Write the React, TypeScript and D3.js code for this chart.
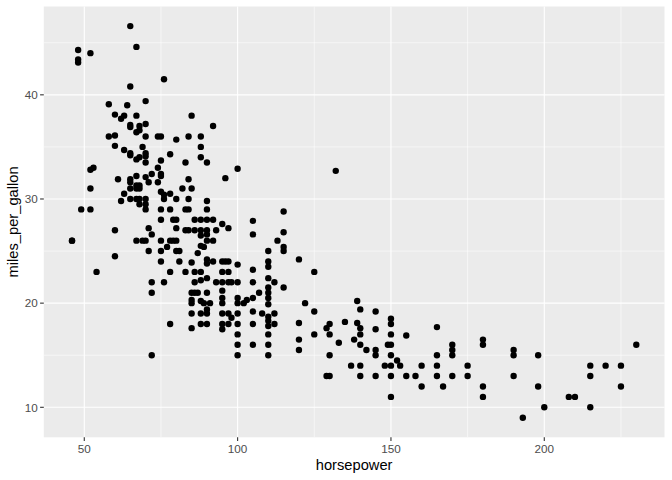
import React from 'react';
import * as d3 from 'd3';

// horsepower / miles_per_gallon pairs
const horsepower = [
  65, 48, 48, 48, 52, 67, 76, 65, 70, 58, 64, 60, 62, 63, 67, 65, 65, 68, 70, 85, 92,
  58, 60, 67, 68, 70, 74, 75, 80, 84, 88, 60, 63, 65, 65, 69, 70, 70, 70, 67, 68,
  78, 88, 88, 90, 83, 75, 74, 52, 53, 72, 75, 75, 67, 65, 65, 70, 71, 68, 67, 61,
  84, 52, 74, 75, 76, 65, 67, 68, 63, 65, 67, 68, 70, 62, 78, 82, 85, 76, 80, 84,
  90, 68, 70, 49, 52, 70, 75, 78, 83, 84, 90, 75, 79, 80, 80, 86, 88, 90, 92, 71,
  60, 83, 84, 86, 88, 90, 93, 72, 88, 90, 46, 46, 67, 69, 70, 75, 78, 79, 80, 88,
  90, 92,
  60, 54, 72, 76, 72, 72, 78, 71, 75, 75, 80, 81, 81, 85, 83, 86, 88, 78, 86, 88,
  90, 93, 85, 86, 87, 90, 85, 85, 88, 89, 91, 85, 88, 90, 90, 85, 88, 90, 77, 87,
  89, 90, 90, 92,
  95, 97, 105, 115, 105, 115, 113, 115, 115, 120, 125, 110, 110, 110, 110, 110, 110,
  110, 110, 112, 115, 107, 105, 103, 102, 100, 100, 105, 105, 100, 100, 95, 96, 97,
  95, 97, 95, 97, 98, 95, 95, 95, 95, 97, 98, 95, 95, 97, 100, 100, 100, 100, 100,
  105, 105, 105, 108, 110, 110, 110, 110, 110, 110, 112, 112, 120, 120, 120, 122,
  125, 125, 129, 130, 130, 130, 133, 100, 96, 132,
  139, 140, 145, 135, 139, 140, 140, 145, 150, 150, 150, 155, 165, 138, 140, 142,
  145, 145, 149, 150, 150, 152, 153, 137, 140, 148, 150, 160, 165, 165, 170, 170,
  170, 175, 180, 180, 140, 145, 150, 155, 158, 165, 170, 175, 160, 167, 180, 180,
  150, 129, 130,
  190, 190, 198, 190, 198, 200, 193, 208, 210, 215, 215, 215, 220, 225, 225, 230,
];

const milesPerGallon = [
  46.6, 44.3, 43.4, 43.1, 44.0, 44.6, 41.5, 40.8, 39.4, 39.1, 39.0, 38.1, 37.7, 38.0,
  38.0, 37.1, 36.9, 37.0, 37.2, 38.0, 37.0,
  36.0, 36.1, 36.4, 36.6, 36.0, 36.0, 36.0, 35.7, 36.0, 36.0, 35.1, 34.7, 34.4, 34.2,
  35.0, 34.4, 34.1, 33.5, 33.8, 34.0, 34.3, 35.0, 34.0, 33.5, 33.5, 33.7, 33.0, 32.8,
  33.0, 32.4, 32.4, 32.2, 32.2, 31.9, 31.6, 32.1, 31.6, 31.3, 31.3, 31.9, 31.9, 31.0,
  31.6, 30.7, 30.4, 31.0, 31.0, 31.0, 30.5, 30.0, 30.0, 30.0, 30.0, 29.8, 30.5, 31.0,
  31.0, 30.0, 30.0, 30.0, 29.8, 29.5, 29.5, 29.0, 29.0, 29.0, 29.0, 29.0, 29.0, 29.0,
  29.0, 28.0, 28.0, 28.0, 27.2, 28.0, 28.0, 28.0, 28.0, 27.2, 27.0, 27.0, 27.0, 27.0,
  27.0, 27.0, 27.0, 26.6, 26.5, 26.6, 26.0, 26.0, 26.0, 26.0, 26.0, 26.0, 26.0, 26.0,
  26.0, 25.5, 26.0, 26.0,
  24.5, 23.0, 22.0, 22.0, 21.0, 15.0, 18.0, 25.0, 25.0, 24.0, 25.0, 25.0, 24.0, 23.9,
  23.0, 23.0, 23.0, 23.0, 22.0, 22.2, 22.4, 22.0, 21.0, 21.0, 21.0, 21.0, 20.3, 20.0,
  20.2, 20.0, 20.0, 19.0, 19.0, 19.0, 19.4, 17.6, 18.0, 18.0, 25.4, 24.8, 25.4, 24.2,
  23.8, 24.0,
  27.6, 27.2, 27.9, 28.8, 26.6, 26.8, 26.0, 25.4, 25.0, 24.2, 23.0, 25.0, 24.0, 23.5,
  22.4, 21.5, 21.0, 20.5, 19.9, 22.0, 21.5, 21.0, 20.5, 20.3, 20.0, 20.5, 20.0, 23.2,
  22.0, 23.7, 22.0, 24.0, 24.0, 24.0, 23.0, 23.0, 22.0, 22.0, 22.0, 21.2, 20.5, 20.0,
  19.0, 19.0, 18.6, 18.0, 17.5, 18.0, 19.0, 18.0, 17.0, 16.0, 15.0, 19.2, 18.0, 16.0,
  19.0, 18.7, 18.3, 17.8, 17.0, 16.0, 15.0, 19.0, 18.0, 18.1, 16.5, 15.5, 20.0, 19.2,
  17.0, 17.6, 18.0, 17.0, 15.0, 16.2, 32.9, 32.0, 32.7,
  20.2, 19.4, 19.2, 18.2, 18.1, 17.6, 17.0, 17.5, 18.5, 18.0, 17.0, 16.9, 17.7, 16.5,
  16.0, 15.5, 15.5, 15.0, 16.0, 16.0, 15.0, 14.5, 14.0, 14.0, 14.0, 14.0, 14.0, 14.0,
  15.0, 14.0, 16.0, 15.5, 15.0, 14.0, 16.5, 16.0, 13.0, 13.0, 13.0, 13.0, 13.0, 13.0,
  13.0, 13.0, 12.0, 12.0, 12.0, 11.0, 11.0, 13.0, 13.0,
  15.5, 15.0, 15.0, 13.0, 12.0, 10.0, 9.0, 11.0, 11.0, 14.0, 13.0, 10.0, 14.0, 14.0,
  12.0, 16.0,
];

const xTicks = [50, 100, 150, 200];
const xMinor = [75, 125, 175, 225];
const yTicks = [10, 20, 30, 40];
const yMinor = [15, 25, 35, 45];

const width = 672;
const height = 480;
const margin = { top: 6.5, right: 7.5, bottom: 42.7, left: 43.8 };

const expand = (ext: [number, number]) => {
  const pad = (ext[1] - ext[0]) * 0.05;
  return [ext[0] - pad, ext[1] + pad];
};

const App = () => {
  const points = horsepower.map((hp, i) => ({ hp, mpg: milesPerGallon[i] }));

  const x = d3
    .scaleLinear()
    .domain(expand(d3.extent(horsepower) as [number, number]))
    .range([margin.left, width - margin.right]);

  const y = d3
    .scaleLinear()
    .domain(expand(d3.extent(milesPerGallon) as [number, number]))
    .range([height - margin.bottom, margin.top]);

  const panelBottom = height - margin.bottom;
  const font = '"Liberation Sans", Arial, Helvetica, sans-serif';

  return (
    <svg
      width={width}
      height={height}
      style={{ position: 'absolute', left: 0, top: 0, background: '#fff' }}
    >
      <rect
        x={margin.left}
        y={margin.top}
        width={width - margin.left - margin.right}
        height={panelBottom - margin.top}
        fill="#EBEBEB"
      />
      {xMinor.map((t) => (
        <line key={'xm' + t} x1={x(t)} x2={x(t)} y1={margin.top} y2={panelBottom}
          stroke="#fff" strokeWidth={0.55} />
      ))}
      {yMinor.map((t) => (
        <line key={'ym' + t} x1={margin.left} x2={width - margin.right} y1={y(t)} y2={y(t)}
          stroke="#fff" strokeWidth={0.55} />
      ))}
      {xTicks.map((t) => (
        <line key={'xg' + t} x1={x(t)} x2={x(t)} y1={margin.top} y2={panelBottom}
          stroke="#fff" strokeWidth={1.1} />
      ))}
      {yTicks.map((t) => (
        <line key={'yg' + t} x1={margin.left} x2={width - margin.right} y1={y(t)} y2={y(t)}
          stroke="#fff" strokeWidth={1.1} />
      ))}

      <g>
        {points.map((d, i) => (
          <circle key={i} cx={x(d.hp)} cy={y(d.mpg)} r={3.2} fill="#000" />
        ))}
      </g>

      {/* axes */}
      <g fontFamily={font} fontSize={11.7} fill="#4D4D4D">
        {xTicks.map((t) => (
          <g key={'xt' + t}>
            <line x1={x(t)} x2={x(t)} y1={panelBottom} y2={panelBottom + 3.7}
              stroke="#333" strokeWidth={1.1} />
            <text x={x(t)} y={panelBottom + 16} textAnchor="middle">{t}</text>
          </g>
        ))}
        {yTicks.map((t) => (
          <g key={'yt' + t}>
            <line x1={margin.left - 3.7} x2={margin.left} y1={y(t)} y2={y(t)}
              stroke="#333" strokeWidth={1.1} />
            <text x={margin.left - 6} y={y(t)} dy="0.36em" textAnchor="end">{t}</text>
          </g>
        ))}
      </g>

      <text
        x={(margin.left + width - margin.right) / 2}
        y={470}
        textAnchor="middle"
        fontFamily={font}
        fontSize={14.7}
        fill="#000"
      >
        horsepower
      </text>
      <text
        transform={`translate(18.3, ${(margin.top + panelBottom) / 2}) rotate(-90)`}
        textAnchor="middle"
        fontFamily={font}
        fontSize={14.7}
        fill="#000"
      >
        miles_per_gallon
      </text>
    </svg>
  );
};

export default App;
